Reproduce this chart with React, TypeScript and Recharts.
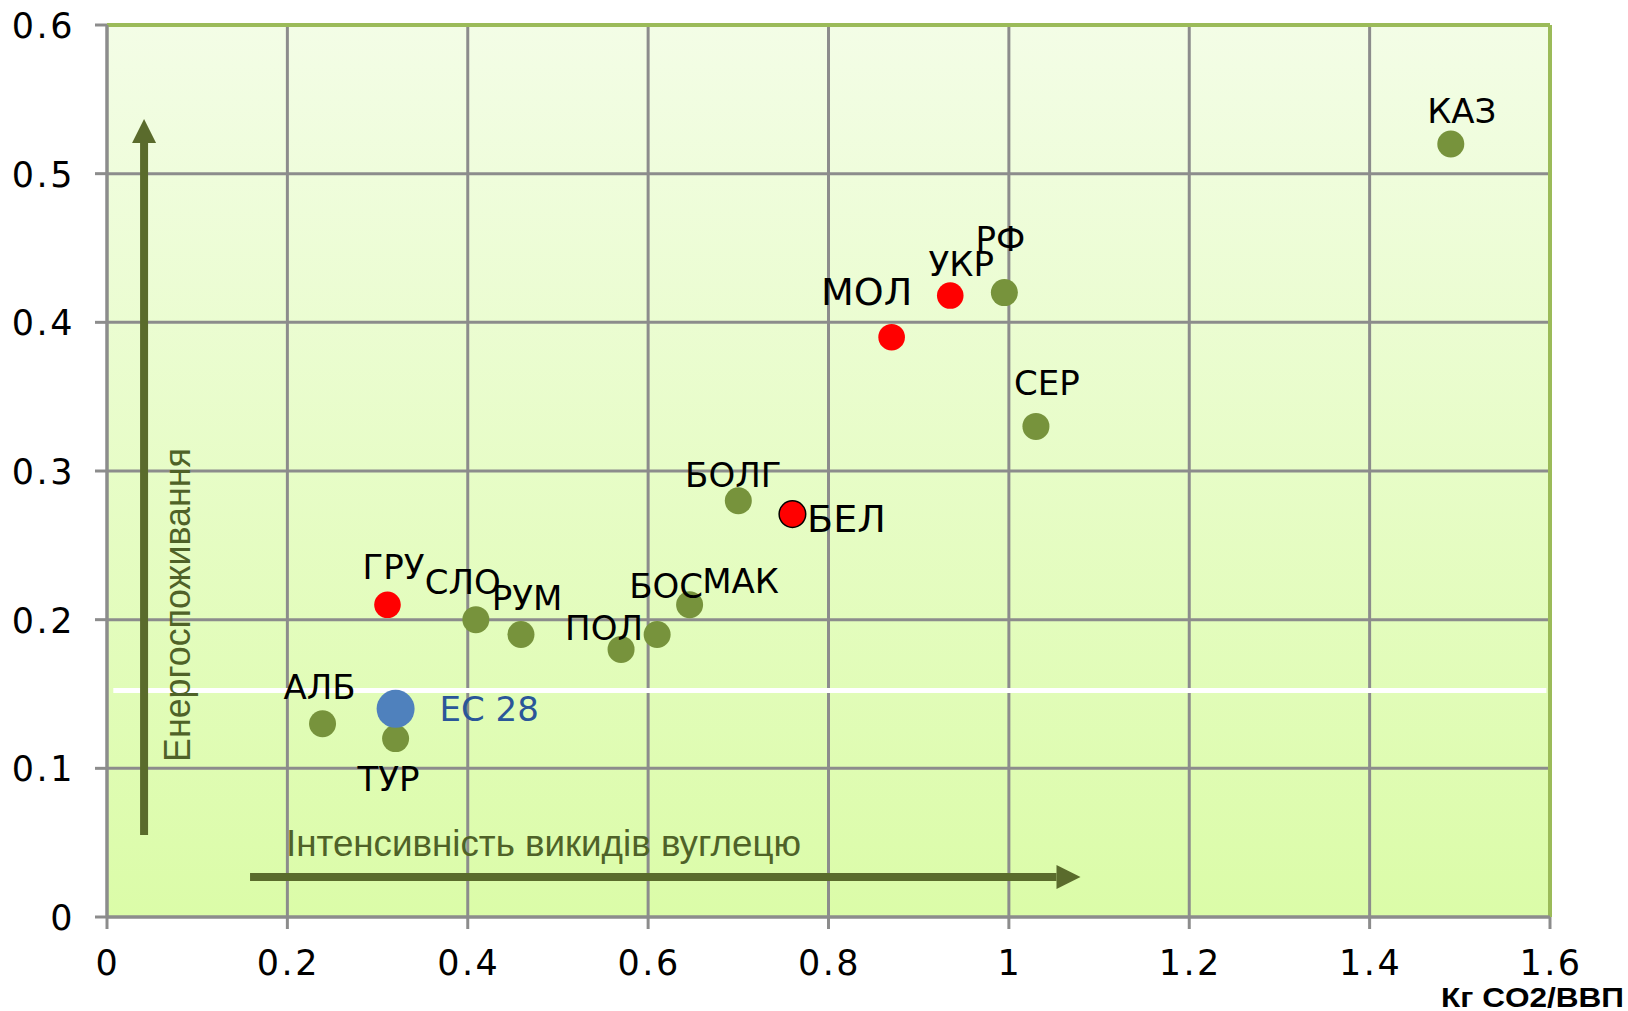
import React from 'react';
import {
  ScatterChart,
  Scatter,
  XAxis,
  YAxis,
  CartesianGrid,
  ReferenceLine,
} from 'recharts';

// other countries (green)
const countryNames = ['КАЗ', 'РФ', 'СЕР', 'БОЛГ', 'МАК', 'БОС', 'ПОЛ', 'РУМ', 'СЛО', 'АЛБ', 'ТУР'];
const countryCarbon = [1.49, 0.995, 1.03, 0.7, 0.646, 0.61, 0.57, 0.459, 0.409, 0.239, 0.32];
const countryEnergy = [0.52, 0.42, 0.33, 0.28, 0.21, 0.19, 0.18, 0.19, 0.2, 0.13, 0.12];

// Eastern Partnership countries (red)
const partnerNames = ['УКР', 'МОЛ', 'БЕЛ', 'ГРУ'];
const partnerCarbon = [0.935, 0.87, 0.76, 0.311];
const partnerEnergy = [0.418, 0.39, 0.271, 0.21];

// EU average (blue)
const euNames = ['ЕС 28'];
const euCarbon = [0.32];
const euEnergy = [0.14];

const xTicks = [0, 0.2, 0.4, 0.6, 0.8, 1, 1.2, 1.4, 1.6];
const yTicks = [0, 0.1, 0.2, 0.3, 0.4, 0.5, 0.6];

const toPoints = (names: string[], xs: number[], ys: number[]) =>
  names.map((name, i) => ({ name, x: xs[i], y: ys[i] }));

const countries = toPoints(countryNames, countryCarbon, countryEnergy);
const partners = toPoints(partnerNames, partnerCarbon, partnerEnergy);
const eu = toPoints(euNames, euCarbon, euEnergy);

// label placement relative to the marker centre (px)
const labelPos: Record<string, { dx: number; dy: number; size?: number; anchor?: string; color?: string }> = {
  'КАЗ': { dx: 11, dy: -21 },
  'РФ': { dx: -4, dy: -42 },
  'СЕР': { dx: 11, dy: -31 },
  'БОЛГ': { dx: -5, dy: -14 },
  'МАК': { dx: 51, dy: -12 },
  'БОС': { dx: 9, dy: -37 },
  'ПОЛ': { dx: -17, dy: -9 },
  'РУМ': { dx: 6, dy: -25 },
  'СЛО': { dx: -13, dy: -26 },
  'АЛБ': { dx: -3, dy: -25 },
  'ТУР': { dx: -7, dy: 52 },
  'УКР': { dx: 11, dy: -20 },
  'МОЛ': { dx: -25, dy: -32, size: 38 },
  'БЕЛ': { dx: 54, dy: 18, size: 38 },
  'ГРУ': { dx: 6, dy: -26 },
  'ЕС 28': { dx: 44, dy: 12, anchor: 'start', color: '#2a5699' },
};

const FONT = 'DejaVu Sans';
const ARROW = '#5a6b2c';

const makeDot = (fill: string, r: number, stroke?: (n: string) => string | undefined) => (props: any) => {
  const { cx, cy, payload } = props;
  const lp = labelPos[payload.name] || { dx: 0, dy: -25 };
  const s = stroke ? stroke(payload.name) : undefined;
  return (
    <g>
      <circle cx={cx} cy={cy} r={r} fill={fill} stroke={s} strokeWidth={s ? 1.5 : 0} />
      <text
        x={cx + lp.dx}
        y={cy + lp.dy}
        textAnchor={lp.anchor || 'middle'}
        fontFamily={FONT}
        fontSize={lp.size || 34}
        fill={lp.color || '#000'}
      >
        {payload.name}
      </text>
    </g>
  );
};

const arrowShape = (props: any) => {
  const { x1, y1, x2, y2 } = props;
  const dx = x2 - x1;
  const dy = y2 - y1;
  const len = Math.hypot(dx, dy) || 1;
  const ux = dx / len;
  const uy = dy / len;
  const head = 24;
  const half = 12;
  const bx = x2 - ux * head;
  const by = y2 - uy * head;
  const px = -uy;
  const py = ux;
  return (
    <g>
      <line x1={x1} y1={y1} x2={bx} y2={by} stroke={ARROW} strokeWidth={8} />
      <polygon
        points={`${x2},${y2} ${bx + px * half},${by + py * half} ${bx - px * half},${by - py * half}`}
        fill={ARROW}
      />
    </g>
  );
};

const YTick = (p: any) => (
  <text x={p.x} y={p.y} dy={13} textAnchor="end" fontFamily={FONT} fontSize={35} letterSpacing={2.5} fill="#000">
    {p.payload.value}
  </text>
);

const XTick = (p: any) => (
  <text x={p.x + 1} y={p.y} dy={46} textAnchor="middle" fontFamily={FONT} fontSize={35} letterSpacing={2.5} fill="#000">
    {p.payload.value}
  </text>
);

export default function App() {
  return (
    <div style={{ position: 'absolute', left: 0, top: 0, width: 1628, height: 1011, background: '#fff' }}>
      <svg width={0} height={0} style={{ position: 'absolute' }}>
        <defs>
          <linearGradient id="plotBg" x1="0" y1="0" x2="0" y2="1">
            <stop offset="0%" stopColor="#f3fde6" />
            <stop offset="100%" stopColor="#dbfca8" />
          </linearGradient>
        </defs>
      </svg>
      <ScatterChart width={1628} height={1011} margin={{ top: 25, right: 78, left: 0, bottom: 0 }}>
        <CartesianGrid stroke="#8c8c8c" strokeWidth={3} fill="url(#plotBg)" fillOpacity={1} />
        <XAxis
          type="number"
          dataKey="x"
          domain={[0, 1.6]}
          ticks={xTicks}
          height={94}
          tickSize={12}
          tickMargin={0}
          stroke="#8c8c8c"
          strokeWidth={3}
          tick={XTick}
          interval={0}
        />
        <YAxis
          type="number"
          dataKey="y"
          domain={[0, 0.6]}
          ticks={yTicks}
          width={107}
          tickSize={12}
          tickMargin={20}
          stroke="#8c8c8c"
          strokeWidth={3}
          tick={YTick}
          interval={0}
        />
        <ReferenceLine y={0.6} stroke="#9bbb59" strokeWidth={4} />
        <ReferenceLine x={1.6} stroke="#9bbb59" strokeWidth={4} />
        <ReferenceLine
          segment={[{ x: 0.007, y: 0.1523 }, { x: 1.596, y: 0.1523 }]}
          stroke="#ffffff"
          strokeWidth={5}
        />
        <ReferenceLine
          segment={[{ x: 0.0411, y: 0.0551 }, { x: 0.0411, y: 0.5367 }]}
          shape={arrowShape}
        />
        <ReferenceLine
          segment={[{ x: 0.1586, y: 0.0269 }, { x: 1.0794, y: 0.0269 }]}
          shape={arrowShape}
        />
        <Scatter data={countries} shape={makeDot('#77933c', 13.5)} isAnimationActive={false} />
        <Scatter
          data={partners}
          shape={makeDot('#ff0000', 13.3, (n) => (n === 'БЕЛ' ? '#000' : undefined))}
          isAnimationActive={false}
        />
        <Scatter data={eu} shape={makeDot('#4f81bd', 19)} isAnimationActive={false} />
      </ScatterChart>
      <svg width={1628} height={1011} style={{ position: 'absolute', left: 0, top: 0, pointerEvents: 'none' }}>
        <text
          transform="translate(190,605) rotate(-90)"
          textAnchor="middle"
          fontFamily="Liberation Sans"
          fontSize={37}
          textLength={314}
          lengthAdjust="spacingAndGlyphs"
          fill="#4f6228"
        >
          Енергоспоживання
        </text>
        <text
          x={286}
          y={856}
          fontFamily="Liberation Sans"
          fontSize={37}
          textLength={515}
          lengthAdjust="spacingAndGlyphs"
          fill="#4f6228"
        >
          Інтенсивність викидів вуглецю
        </text>
        <text
          x={1624}
          y={1007}
          textAnchor="end"
          fontFamily="Liberation Sans"
          fontWeight="bold"
          fontSize={28}
          textLength={183}
          lengthAdjust="spacingAndGlyphs"
          fill="#000"
        >
          Кг CO2/ВВП
        </text>
      </svg>
    </div>
  );
}
